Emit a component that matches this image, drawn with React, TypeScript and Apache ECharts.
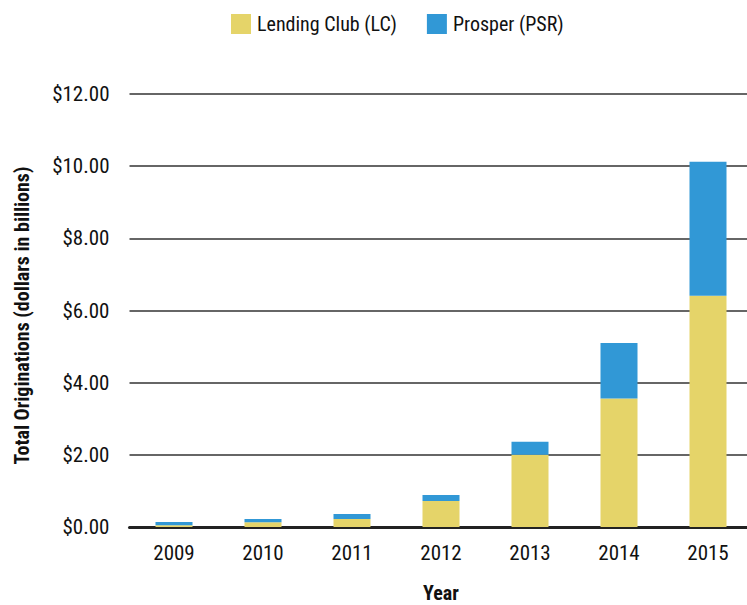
import React, { useEffect, useRef } from "react";
import * as echarts from "echarts";

const years = ["2009", "2010", "2011", "2012", "2013", "2014", "2015"];
const lendingClub = [0.05, 0.13, 0.22, 0.72, 2.0, 3.56, 6.41];
const prosper = [0.09, 0.09, 0.14, 0.17, 0.36, 1.54, 3.71];
const seriesNames = ["Lending Club (LC)", "Prosper (PSR)"];
const colors = ["#E5D469", "#3198D6"];

const FONT = "'Roboto Condensed', 'Liberation Sans', sans-serif";

export default function App() {
  const ref = useRef<HTMLDivElement>(null);
  useEffect(() => {
    if (!ref.current) return;
    const chart = echarts.init(ref.current, null, { renderer: "svg" });
    chart.setOption({
      animation: false,
      textStyle: { fontFamily: FONT },
      legend: {
        top: 14,
        left: 231,
        padding: 0,
        itemWidth: 20,
        itemHeight: 20,
        itemGap: 30,
        icon: "rect",
        data: seriesNames,
        textStyle: { fontFamily: FONT, fontSize: 20, color: "#111", padding: [0, 0, 0, 1] },
      },
      grid: { left: 129.5, width: 623, top: 94, bottom: 78, containLabel: false, outerBoundsMode: "none" },
      xAxis: {
        type: "category",
        data: years,
        name: "Year",
        nameLocation: "middle",
        nameGap: 59,
        nameTextStyle: { fontFamily: FONT, fontSize: 20, lineHeight: 14, fontWeight: "bold", color: "#111" },
        axisLine: { show: true, lineStyle: { color: "#222", width: 3 } },
        axisTick: { show: false },
        axisLabel: { fontFamily: FONT, fontSize: 21, color: "#111", margin: 15 },
      },
      yAxis: {
        type: "value",
        min: 0,
        max: 12,
        interval: 2,
        name: "Total Originations (dollars in billions)",
        nameLocation: "middle",
        nameGap: 98,
        nameTextStyle: {
          fontFamily: FONT,
          fontSize: 20,
          fontWeight: "bold",
          color: "#111",
          padding: [0, 10, 0, 0],
        },
        axisLine: { show: false },
        axisTick: { show: false },
        axisLabel: {
          fontFamily: FONT,
          fontSize: 21,
          color: "#111",
          margin: 20,
          formatter: (v: number) => "$" + v.toFixed(2),
        },
        splitLine: { lineStyle: { color: "#333", width: 1.5 } },
      },
      series: [
        {
          name: seriesNames[0],
          type: "bar",
          stack: "total",
          data: lendingClub,
          barWidth: 37,
          itemStyle: { color: colors[0] },
        },
        {
          name: seriesNames[1],
          type: "bar",
          stack: "total",
          data: prosper,
          barWidth: 37,
          itemStyle: { color: colors[1] },
        },
      ],
    });
    return () => chart.dispose();
  }, []);
  return (
    <div
      ref={ref}
      style={{ position: "fixed", left: 0, top: 0, width: 747, height: 605, background: "#fff" }}
    />
  );
}
